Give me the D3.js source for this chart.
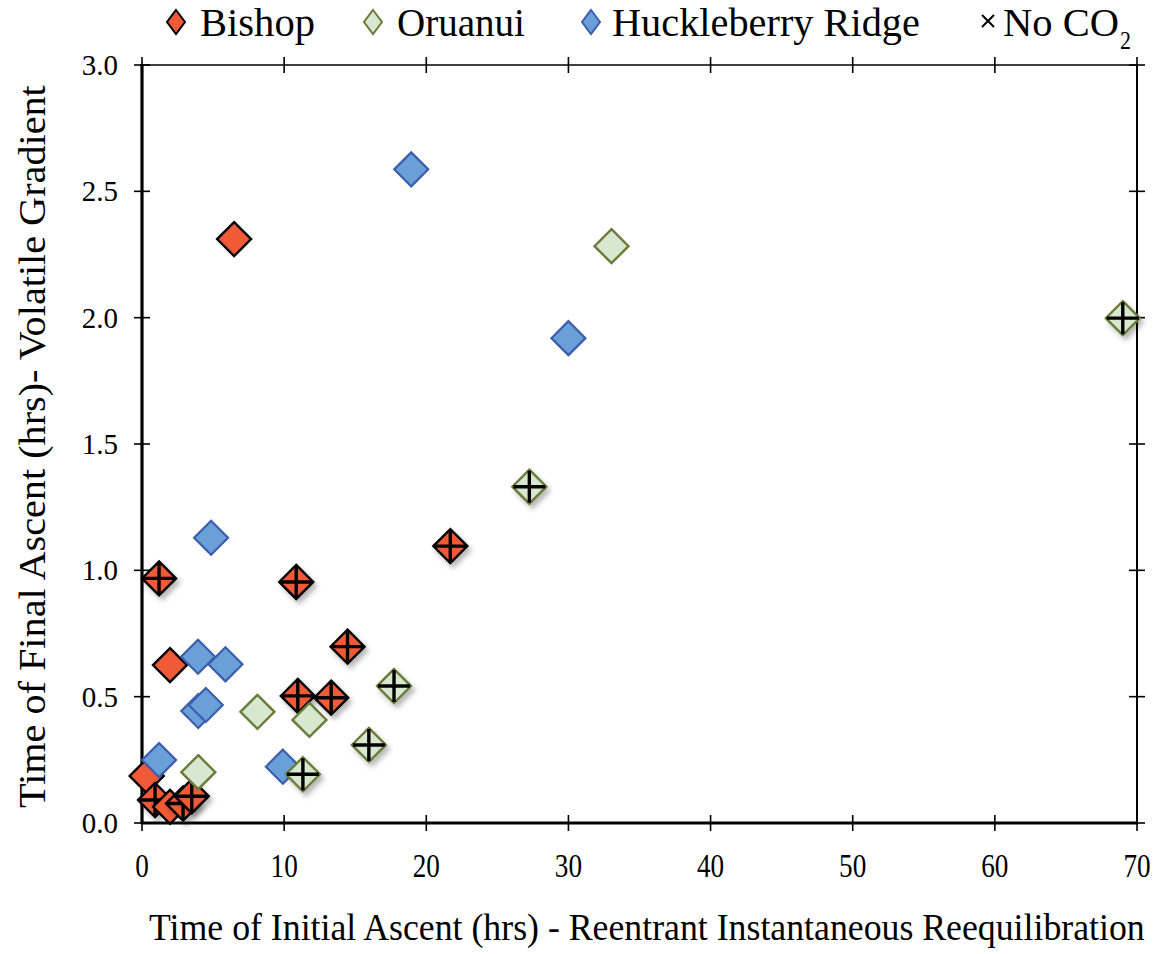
<!DOCTYPE html>
<html>
<head>
<meta charset="utf-8">
<script src="https://cdn.jsdelivr.net/npm/d3@7"></script>
<style>
  html, body { margin: 0; padding: 0; background: #fff; }
  svg { display: block; }
  text { font-family: "Liberation Serif", "Times New Roman", serif; fill: #000; }
</style>
</head>
<body>
<svg id="chart" width="1158" height="954"></svg>
<script>
// Initial ascent time (hrs) vs final ascent time (hrs) per eruption
const bishopX = [6.48, 1.20, 1.97, 10.85, 21.69, 14.46, 10.96, 13.31, 0.33, 0.92, 1.97, 2.89, 3.50];
const bishopY = [2.311, 0.968, 0.625, 0.954, 1.096, 0.698, 0.503, 0.496, 0.186, 0.091, 0.064, 0.077, 0.106];
const bishopNoCO2 = [false, true, false, true, true, true, true, true, false, true, false, true, true];

const huckX = [18.94, 30.00, 4.86, 3.94, 5.87, 3.96, 4.49, 1.20, 9.91];
const huckY = [2.587, 1.919, 1.129, 0.658, 0.628, 0.443, 0.467, 0.249, 0.223];
const huckNoCO2 = [false, false, false, false, false, false, false, false, false];

const oruX = [33.03, 69.00, 27.25, 17.73, 8.12, 11.78, 15.96, 11.32, 3.96];
const oruY = [2.283, 1.998, 1.331, 0.542, 0.440, 0.408, 0.309, 0.193, 0.201];
const oruNoCO2 = [false, true, true, true, false, false, true, true, false];

const xTicks = [0, 10, 20, 30, 40, 50, 60, 70];
const yTicks = [0, 0.5, 1.0, 1.5, 2.0, 2.5, 3.0];
const yTickLabels = ["0.0", "0.5", "1.0", "1.5", "2.0", "2.5", "3.0"];

const seriesNames = ["Bishop", "Oruanui", "Huckleberry Ridge"];
const xTitle = "Time of Initial Ascent (hrs) - Reentrant Instantaneous Reequilibration";
const yTitle = "Time of Final Ascent (hrs)- Volatile Gradient";

const svg = d3.select("#chart");
const plotL = 142, plotR = 1137, plotT = 65, plotB = 823;

const x = d3.scaleLinear().domain([0, 70]).range([plotL, plotR]);
const y = d3.scaleLinear().domain([0, 3]).range([plotB, plotT]);

const styles = {
  "Bishop": { fill: "#f15a37", stroke: "#000000", sw: 2.4 },
  "Oruanui": { fill: "#d8e8d0", stroke: "#6b7b3a", sw: 2.4 },
  "Huckleberry Ridge": { fill: "#6a9fd8", stroke: "#3c5ead", sw: 2.2 }
};

// Squeeze a text element horizontally (in its own frame) to a given width
function fitWidth(sel, width) {
  const node = sel.node();
  const natural = node.getComputedTextLength();
  const k = width / natural;
  const ax = +sel.attr("x") || 0;
  const prev = sel.attr("transform") || "";
  sel.attr("transform", `${prev} translate(${ax},0) scale(${k},1) translate(${-ax},0)`);
  return sel;
}

const defs = svg.append("defs");
const shadow = defs.append("filter").attr("id", "soft").attr("x", "-50%").attr("y", "-50%")
  .attr("width", "200%").attr("height", "200%");
shadow.append("feDropShadow").attr("dx", 3).attr("dy", 4).attr("stdDeviation", 2.5)
  .attr("flood-color", "#000").attr("flood-opacity", 0.28);

// Plot frame
const frame = svg.append("g");
frame.append("line").attr("x1", plotL).attr("x2", plotR).attr("y1", plotT).attr("y2", plotT)
  .attr("stroke", "#000").attr("stroke-width", 1.6);
frame.append("line").attr("x1", plotR).attr("x2", plotR).attr("y1", plotT).attr("y2", plotB)
  .attr("stroke", "#000").attr("stroke-width", 2);

// Crossing tick marks on all four sides
const tk = 8;
const ticks = svg.append("g").attr("stroke", "#000").attr("stroke-width", 1.6);
xTicks.forEach(v => {
  ticks.append("line").attr("x1", x(v)).attr("x2", x(v)).attr("y1", plotB - tk).attr("y2", plotB + tk);
  ticks.append("line").attr("x1", x(v)).attr("x2", x(v)).attr("y1", plotT - tk).attr("y2", plotT + tk);
});
yTicks.forEach(v => {
  ticks.append("line").attr("x1", plotL - tk).attr("x2", plotL + tk).attr("y1", y(v)).attr("y2", y(v));
  ticks.append("line").attr("x1", plotR - tk).attr("x2", plotR + tk).attr("y1", y(v)).attr("y2", y(v));
});

frame.append("line").attr("x1", plotL).attr("x2", plotL).attr("y1", plotT - 1).attr("y2", plotB + 1)
  .attr("stroke", "#000").attr("stroke-width", 3.2);
frame.append("line").attr("x1", plotL - 1).attr("x2", plotR + 1).attr("y1", plotB).attr("y2", plotB)
  .attr("stroke", "#000").attr("stroke-width", 3.2);

// Tick labels
svg.append("g").selectAll("text").data(xTicks).join("text")
  .attr("x", d => x(d)).attr("y", 877)
  .attr("text-anchor", "middle").attr("font-size", 34)
  .attr("transform", d => `translate(${x(d)},0) scale(0.8,1) translate(${-x(d)},0)`)
  .text(d => d);

svg.append("g").selectAll("text").data(yTicks).join("text")
  .attr("x", 118).attr("y", d => y(d) + 10)
  .attr("text-anchor", "end").attr("font-size", 29)
  .text((d, i) => yTickLabels[i]);

// Axis titles
fitWidth(svg.append("text").attr("x", 149).attr("y", 940).attr("font-size", 38).text(xTitle), 996);

fitWidth(svg.append("text").attr("transform", "translate(45,808) rotate(-90)").attr("x", 0)
  .attr("font-size", 38).text(yTitle), 723);

// Markers
const R = 17;
const diamond = `M0,${-R}L${R},0L0,${R}L${-R},0Z`;

function drawSeries(name, xs, ys, flags) {
  const st = styles[name];
  const pts = xs.map((v, i) => ({ x: v, y: ys[i], n: flags[i] }));
  const g = svg.append("g");
  const m = g.selectAll("g").data(pts).join("g")
    .attr("transform", d => `translate(${x(d.x)},${y(d.y)})`)
    .attr("filter", d => d.n ? "url(#soft)" : null);
  m.append("path").attr("d", diamond).attr("fill", st.fill)
    .attr("stroke", st.stroke).attr("stroke-width", st.sw).attr("stroke-linejoin", "miter");
  m.filter(d => d.n).append("path")
    .attr("d", `M0,${-R + 1}V${R - 1}M${-R + 1},0H${R - 1}`)
    .attr("stroke", "#000").attr("stroke-width", 3.4).attr("fill", "none");
}

drawSeries("Bishop", bishopX, bishopY, bishopNoCO2);
drawSeries("Huckleberry Ridge", huckX, huckY, huckNoCO2);
drawSeries("Oruanui", oruX, oruY, oruNoCO2);

// Legend
const legend = svg.append("g");
const legendItems = [
  { name: seriesNames[0], mx: 176, tx: 200, w: 115 },
  { name: seriesNames[1], mx: 373, tx: 397, w: 128 },
  { name: seriesNames[2], mx: 591, tx: 612, w: 308 }
];
legendItems.forEach(it => {
  const st = styles[it.name];
  legend.append("path").attr("transform", `translate(${it.mx},22)`)
    .attr("d", "M0,-12L9,0L0,12L-9,0Z").attr("fill", st.fill)
    .attr("stroke", st.stroke).attr("stroke-width", 2);
  fitWidth(legend.append("text").attr("x", it.tx).attr("y", 36).attr("font-size", 40).text(it.name), it.w);
});
legend.append("path").attr("transform", "translate(988,21)")
  .attr("d", "M-6,-6L6,6M-6,6L6,-6").attr("stroke", "#000").attr("stroke-width", 2);
fitWidth(legend.append("text").attr("x", 1003).attr("y", 36).attr("font-size", 40).text("No CO"), 116);
fitWidth(legend.append("text").attr("x", 1120).attr("y", 49).attr("font-size", 26).text("2"), 11);
</script>
</body>
</html>
